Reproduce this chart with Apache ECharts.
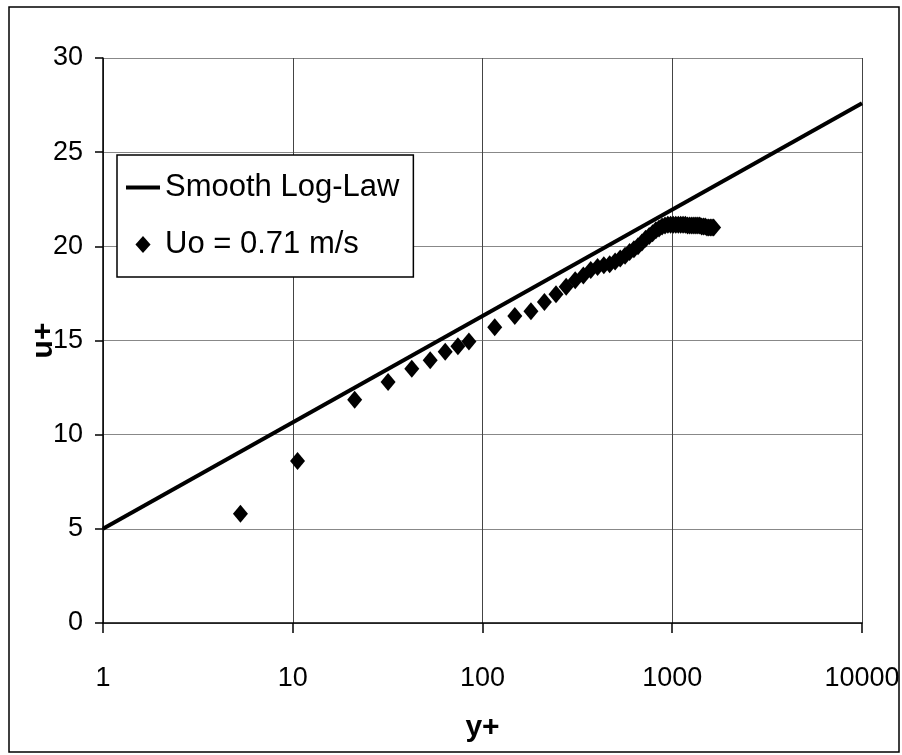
<!DOCTYPE html>
<html>
<head>
<meta charset="utf-8">
<script src="https://cdn.jsdelivr.net/npm/echarts@6/dist/echarts.min.js"></script>
<style>
  html, body { margin: 0; padding: 0; background: #fff; }
  #chart { width: 902px; height: 755px; }
</style>
</head>
<body>
<div id="chart"></div>
<script>
// log-law line, read at the two ends of the x axis
var lawY = [1, 10000];
var lawU = [5.0, 27.6];

// measured profile, Uo = 0.71 m/s
var dataY = [5.3, 10.6, 21.2, 31.8, 42.4, 53, 63.6, 74.2, 84.8, 116, 148, 180, 212, 244, 276, 308, 340, 372,
  404, 436, 468, 500, 532, 564, 596, 628, 660, 692, 724, 756, 788, 820, 852, 884, 916, 948, 980, 1012,
  1044, 1076, 1108, 1140, 1172, 1204, 1236, 1268, 1300, 1332, 1364, 1396, 1428, 1460, 1492, 1524, 1556,
  1588, 1620, 1652];
var dataU = [5.8, 8.6, 11.85, 12.8, 13.5, 13.95, 14.4, 14.7, 14.95, 15.7, 16.3, 16.55, 17.05, 17.45, 17.85,
  18.2, 18.45, 18.75, 18.9, 19.0, 19.05, 19.2, 19.35, 19.5, 19.7, 19.85, 20.0, 20.2, 20.4, 20.55, 20.7,
  20.85, 20.95, 21.05, 21.1, 21.15, 21.15, 21.15, 21.15, 21.15, 21.15, 21.15, 21.15, 21.1, 21.1, 21.1,
  21.1, 21.1, 21.1, 21.1, 21.05, 21.05, 21.05, 21.0, 21.0, 21.0, 21.0, 21.0];

var xTicks = [1, 10, 100, 1000, 10000];
var yTicks = [0, 5, 10, 15, 20, 25, 30];

var font = '"Liberation Sans Narrow", "Liberation Sans", Arial, sans-serif';

var lawData = lawY.map(function (y, i) { return [y, lawU[i]]; });
var pts = dataY.map(function (y, i) { return [y, dataU[i]]; });

var chart = echarts.init(document.getElementById('chart'));
var option = {
  backgroundColor: '#fff',
  animation: false,
  textStyle: { fontFamily: font, color: '#000' },
  grid: { left: 103, right: 40, top: 58, bottom: 132, outerBoundsMode: 'none', containLabel: false },
  graphic: [{
    type: 'rect',
    shape: { x: 9, y: 7, width: 890, height: 745 },
    style: { fill: 'none', stroke: '#000', lineWidth: 1.5 },
    silent: true
  }],
  legend: {
    orient: 'vertical',
    left: 117,
    top: 155,
    padding: [17, 14, 17, 9],
    itemGap: 26,
    itemWidth: 34,
    itemHeight: 17,
    symbolKeepAspect: true,
    backgroundColor: '#fff',
    borderColor: '#000',
    borderWidth: 1.5,
    textStyle: { fontFamily: font, fontSize: 31, color: '#000' },
    data: [
      { name: 'Smooth Log-Law', icon: 'path://M0,0H34V4H0Z' },
      { name: 'Uo = 0.71 m/s', icon: 'path://M8,0L16,9L8,18L0,9Z' }
    ]
  },
  xAxis: {
    type: 'log',
    logBase: 10,
    min: xTicks[0],
    max: xTicks[xTicks.length - 1],
    name: 'y+',
    nameLocation: 'middle',
    nameGap: 90,
    nameMoveOverlap: false,
    nameTextStyle: { fontFamily: font, fontSize: 30, fontWeight: 'bold', color: '#000' },
    axisLine: { lineStyle: { color: '#000', width: 1.5 } },
    axisTick: { show: true, length: 10, lineStyle: { color: '#000', width: 1.5 } },
    minorTick: { show: false },
    axisLabel: {
      fontSize: 27, color: '#000', margin: 42,
      formatter: function (v) { return String(v); }
    },
    splitLine: { show: true, lineStyle: { color: '#444', width: 1 } }
  },
  yAxis: {
    type: 'value',
    min: yTicks[0],
    max: yTicks[yTicks.length - 1],
    interval: 5,
    name: 'u+',
    nameLocation: 'middle',
    nameRotate: 90,
    nameGap: 44,
    nameMoveOverlap: false,
    nameTextStyle: { fontFamily: font, fontSize: 30, fontWeight: 'bold', color: '#000' },
    axisLine: { show: true, lineStyle: { color: '#000', width: 1.5 } },
    axisTick: { show: true, length: 8, lineStyle: { color: '#000', width: 1.5 } },
    axisLabel: { fontSize: 27, color: '#000', margin: 20 },
    splitLine: { show: true, lineStyle: { color: '#888', width: 1 } }
  },
  series: [
    {
      name: 'Smooth Log-Law',
      type: 'line',
      data: lawData,
      symbol: 'none',
      lineStyle: { color: '#000', width: 4 },
      itemStyle: { color: '#000' },
      z: 3
    },
    {
      name: 'Uo = 0.71 m/s',
      type: 'scatter',
      data: pts,
      symbol: 'diamond',
      symbolSize: [15, 18],
      itemStyle: { color: '#000', opacity: 1 },
      z: 4
    }
  ]
};
chart.setOption(option);
</script>
</body>
</html>
